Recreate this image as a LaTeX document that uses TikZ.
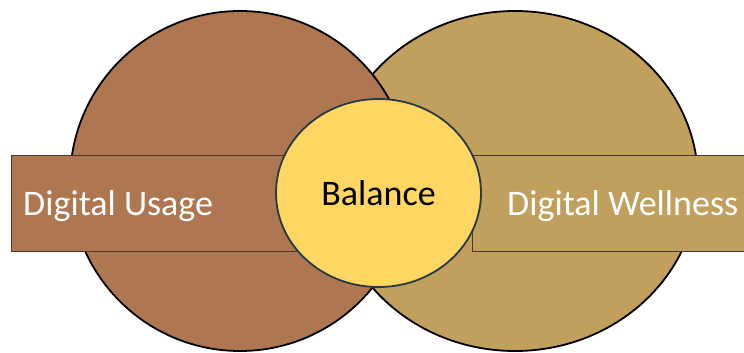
\documentclass[tikz,border=0pt]{standalone}
\usepackage{fontspec}
\setmainfont{Carlito}
\usetikzlibrary{shapes.geometric}
\definecolor{usagebrown}{RGB}{174,118,81}
\definecolor{wellnesstan}{RGB}{193,159,92}
\definecolor{balanceyellow}{RGB}{255,214,98}
\definecolor{balanceedge}{RGB}{38,58,70}
\definecolor{boxedge}{RGB}{70,58,46}

\begin{document}
\begin{tikzpicture}[x=1pt,y=-1pt,
    bigcircle/.style={ellipse,draw=black,line width=1.8pt,inner sep=0pt,minimum height=340pt},
    labelbox/.style={draw=boxedge,line width=0.9pt,minimum height=96pt,inner sep=0pt,anchor=west},
    labeltext/.style={anchor=base west,inner sep=0pt,text=white,font=\fontsize{36}{42}\selectfont}]
  % frame
  \clip (0,0) rectangle (744,353);
  % circles
  \node[bigcircle,fill=wellnesstan,minimum width=366pt] (wellness) at (515,181) {};
  \node[bigcircle,fill=usagebrown,minimum width=340pt] (usage) at (240,181) {};
  % label bars
  \node[labelbox,fill=usagebrown,minimum width=309pt] (usagebox) at (11,203.7) {};
  \node[labelbox,fill=wellnesstan,minimum width=330pt] (wellnessbox) at (472,203.7) {};
  \node[labeltext] (usagetext) at (23,215) {Digital Usage};
  \node[labeltext] (wellnesstext) at (507,215) {Digital Wellness};
  % middle
  \node[ellipse,draw=balanceedge,line width=1.8pt,fill=balanceyellow,minimum width=205pt,minimum height=188pt,inner sep=0pt,font=\fontsize{36}{42}\selectfont] (balance) at (378.5,193) {Balance};
\end{tikzpicture}
\end{document}
